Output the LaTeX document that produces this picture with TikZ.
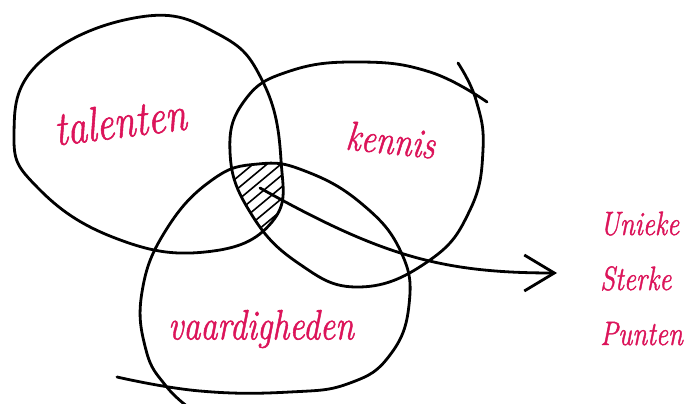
\documentclass[tikz,border=0pt]{standalone}
\usepackage{fontspec}
\usetikzlibrary{arrows.meta}
\newfontfamily\schrift{Latin Modern Roman}[FakeBold=1.3]
\definecolor{roze}{RGB}{220,20,90}
\newcommand\hoog[1]{\scalebox{1}[1.25]{#1}}
\tikzset{
  lus/.style={line width=2.8pt, line cap=round, line join=round},
  arcering/.style={line width=1.6pt},
  woord/.style={text=roze, inner sep=0pt},
}
\begin{document}
\begin{tikzpicture}[x=1pt,y=-1pt]
  \useasboundingbox[fill=white] (0,0) rectangle (688,404);
  % talenten
  \draw[lus] plot[smooth cycle, tension=0.75] coordinates {(140,17) (218,34) (263,82) (281,160) (272,222)
    (205,252) (115,238) (38,188) (14,135) (40,62)};
  % kennis
  \draw[lus] plot[smooth, tension=0.75] coordinates {(458,63) (476,100) (483,150) (470,210) (430,260)
    (360,287) (298,263) (250,212) (230,152) (245,100) (290,71) (360,62) (430,72) (487,102)};
  % vaardigheden
  \draw[lus] plot[smooth, tension=0.75] coordinates {(117,377) (200,391) (290,392) (350,383) (390,355)
    (409,305) (401,252) (362,204) (305,171) (258,164) (212,180) (166,230) (142,292) (146,350)
    (166,386) (192,410)};
  % gearceerde doorsnede
  \begin{scope}
    \clip plot[smooth cycle, tension=0.75] coordinates {(140,17) (218,34) (263,82) (281,160) (272,222)
      (205,252) (115,238) (38,188) (14,135) (40,62)};
    \clip plot[smooth cycle, tension=0.75] coordinates {(476,100) (483,150) (470,210) (430,260)
      (360,287) (298,263) (250,212) (230,152) (245,100) (290,71) (360,62) (430,72)};
    \clip plot[smooth cycle, tension=0.75] coordinates {(200,391) (290,392) (350,383) (390,355)
      (409,305) (401,252) (362,204) (305,171) (258,164) (212,180) (166,230) (142,292) (146,350)
      (166,386)};
    \foreach \c in {400,414,...,490}
      \draw[arcering] (\c-250,250) -- (\c-130,150);
  \end{scope}
  \node[woord, font=\schrift\itshape\fontsize{39}{39}\selectfont, rotate=7] (talenten) at (120,121) {\hoog{talenten}};
  \node[woord, font=\schrift\itshape\fontsize{33}{33}\selectfont, rotate=-6] (kennis) at (391,140) {\hoog{kennis}};
  \node[woord, font=\schrift\itshape\fontsize{34}{34}\selectfont] (vaardigheden) at (261,329) {\hoog{vaardigheden}};
  \node[woord, font=\schrift\itshape\fontsize{27}{27}\selectfont, anchor=base west] (unieke) at (600,235) {\hoog{Unieke}};
  \node[woord, font=\schrift\itshape\fontsize{27}{27}\selectfont, anchor=base west] (sterke) at (600,290) {\hoog{Sterke}};
  \node[woord, font=\schrift\itshape\fontsize{27}{27}\selectfont, anchor=base west] (punten) at (600,345) {\hoog{Punten}};
  \coordinate (kern) at (260,188);
  \coordinate (punt) at (557,273);
  \draw[lus, -{Straight Barb[length=30pt,width=36pt]}] (kern) .. controls (380,255) and (440,273) .. (punt);
\end{tikzpicture}
\end{document}
